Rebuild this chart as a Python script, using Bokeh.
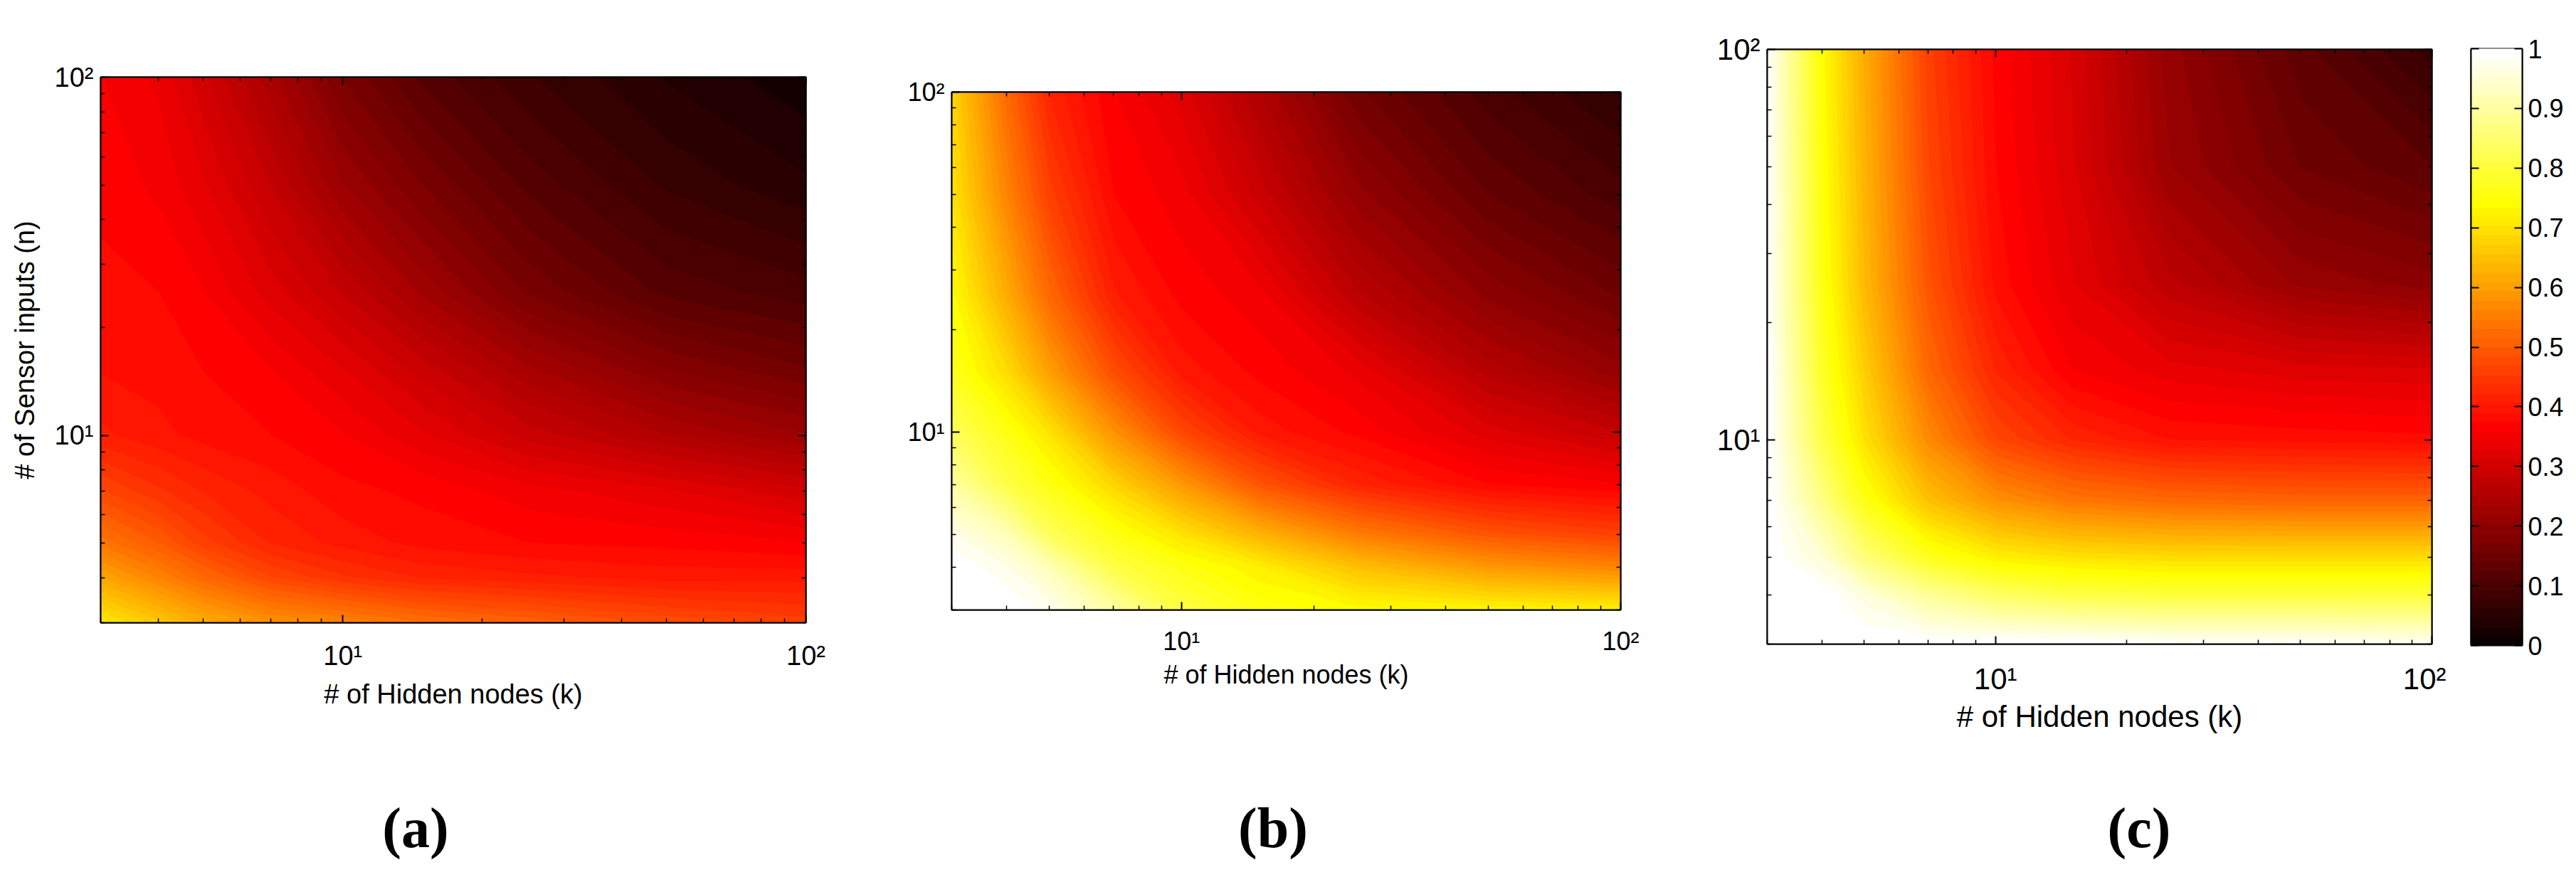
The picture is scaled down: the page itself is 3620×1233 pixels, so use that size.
import numpy as np
from bokeh.plotting import figure
from bokeh.models import LinearAxis, FixedTicker, Range1d, Div, Spacer
from bokeh.layouts import row, column
from bokeh.embed import file_html
from bokeh.resources import INLINE

# ---------------- data ----------------
hidden_nodes = [3, 4, 5, 7, 10, 15, 25, 50, 100]      # k (x)
sensor_inputs = [3, 4, 5, 7, 10, 15, 25, 50, 100]     # n (y), rows below

values_a = [
    [0.71, 0.66, 0.62, 0.58, 0.56, 0.53, 0.51, 0.48, 0.46],
    [0.61, 0.56, 0.52, 0.47, 0.44, 0.42, 0.41, 0.40, 0.40],
    [0.54, 0.50, 0.46, 0.42, 0.40, 0.385, 0.375, 0.37, 0.36],
    [0.47, 0.44, 0.42, 0.40, 0.38, 0.37, 0.35, 0.33, 0.30],
    [0.41, 0.395, 0.385, 0.375, 0.36, 0.33, 0.29, 0.25, 0.22],
    [0.39, 0.385, 0.375, 0.36, 0.33, 0.29, 0.24, 0.19, 0.16],
    [0.38, 0.375, 0.36, 0.32, 0.28, 0.23, 0.17, 0.12, 0.10],
    [0.37, 0.355, 0.33, 0.28, 0.22, 0.17, 0.12, 0.075, 0.05],
    [0.36, 0.34, 0.30, 0.24, 0.17, 0.12, 0.08, 0.045, 0.02],
]

values_b = [
    [1.00, 1.00, 0.98, 0.90, 0.81, 0.76, 0.74, 0.73, 0.72],
    [1.00, 0.97, 0.92, 0.81, 0.76, 0.72, 0.65, 0.59, 0.56],
    [0.97, 0.92, 0.83, 0.76, 0.70, 0.63, 0.55, 0.49, 0.46],
    [0.90, 0.81, 0.76, 0.68, 0.59, 0.49, 0.42, 0.375, 0.36],
    [0.83, 0.76, 0.70, 0.58, 0.47, 0.40, 0.37, 0.32, 0.28],
    [0.77, 0.69, 0.60, 0.48, 0.40, 0.37, 0.34, 0.26, 0.21],
    [0.74, 0.62, 0.52, 0.41, 0.37, 0.35, 0.27, 0.20, 0.155],
    [0.70, 0.56, 0.46, 0.375, 0.35, 0.29, 0.21, 0.14, 0.10],
    [0.68, 0.52, 0.42, 0.36, 0.32, 0.25, 0.16, 0.10, 0.06],
]

values_c = [
    [1.00, 1.00, 1.00, 1.00, 1.00, 1.00, 0.99, 0.99, 0.98],
    [1.00, 1.00, 0.96, 0.89, 0.84, 0.81, 0.80, 0.80, 0.80],
    [1.00, 0.95, 0.86, 0.77, 0.72, 0.70, 0.69, 0.69, 0.69],
    [1.00, 0.87, 0.76, 0.65, 0.58, 0.54, 0.52, 0.51, 0.51],
    [1.00, 0.81, 0.70, 0.57, 0.47, 0.42, 0.39, 0.385, 0.38],
    [1.00, 0.78, 0.67, 0.52, 0.42, 0.36, 0.335, 0.32, 0.315],
    [0.99, 0.76, 0.64, 0.49, 0.385, 0.33, 0.27, 0.215, 0.195],
    [0.99, 0.75, 0.63, 0.47, 0.375, 0.315, 0.22, 0.155, 0.125],
    [0.99, 0.74, 0.62, 0.46, 0.37, 0.31, 0.21, 0.13, 0.07],
]

major_ticks = [10, 100]
major_tick_labels = ["10\u00b9", "10\u00b2"]
minor_ticks = [3, 4, 5, 6, 7, 8, 9, 20, 30, 40, 50, 60, 70, 80, 90]
axis_limits = (3, 100)
colorbar_ticks = [0, 0.1, 0.2, 0.3, 0.4, 0.5, 0.6, 0.7, 0.8, 0.9, 1]
colorbar_labels = ["0", "0.1", "0.2", "0.3", "0.4", "0.5", "0.6", "0.7", "0.8", "0.9", "1"]
panel_tags = ["(a)", "(b)", "(c)"]
x_title = "# of Hidden nodes (k)"
y_title = "# of Sensor inputs (n)"

# log-decade coordinates (the axes are logarithmic)
LX = np.log10(hidden_nodes)
LY = np.log10(sensor_inputs)
L_MAJOR = [float(np.log10(t)) for t in major_ticks]
L_MINOR = [float(np.log10(t)) for t in minor_ticks]
L_LIM = (float(np.log10(axis_limits[0])), float(np.log10(axis_limits[1])))


# ---------------- MATLAB "hot" colormap, 64 entries ----------------
def hot(m=64):
    n = int(3 * m / 8)
    cols = []
    for i in range(1, m + 1):
        r = min(1.0, i / n)
        g = min(1.0, max(0.0, (i - n) / n))
        b = min(1.0, max(0.0, (i - 2 * n) / (m - 2 * n)))
        cols.append("#%02x%02x%02x" % (round(r * 255), round(g * 255), round(b * 255)))
    return cols


PAL = hot(64)
LEVELS = list(np.linspace(0, 1, 65))
LEVELS[-1] = 1.0005
LINE_PAL = [PAL[min(j, 63)] for j in range(65)]
CB_LEVELS = list(np.linspace(0, 1, 65))

FONT = "Liberation Sans"


def style_axis(ax, size, labels=True, standoff=10):
    ax.ticker = FixedTicker(ticks=L_MAJOR, minor_ticks=L_MINOR)
    if labels:
        ax.major_label_overrides = dict(zip(L_MAJOR, major_tick_labels))
    else:
        ax.major_label_overrides = {t: "" for t in L_MAJOR}
    ax.major_tick_in = 11
    ax.major_tick_out = 0
    ax.minor_tick_in = 6
    ax.minor_tick_out = 0
    ax.axis_line_width = 2
    ax.axis_line_color = "black"
    ax.major_tick_line_width = 2
    ax.minor_tick_line_width = 1.5
    ax.major_label_standoff = standoff
    ax.major_label_text_font = FONT
    ax.major_label_text_color = "black"
    ax.major_label_text_font_size = f"{size}px"
    ax.axis_label_text_font = FONT
    ax.axis_label_text_font_style = "normal"
    ax.axis_label_text_color = "black"
    ax.axis_label_text_font_size = f"{size}px"


def panel(values, fw, fh, left, right, top, bottom, size, tick_standoff, xl_standoff,
          ylabel=None):
    p = figure(x_range=Range1d(*L_LIM), y_range=Range1d(*L_LIM),
               frame_width=fw, frame_height=fh,
               min_border_left=left, min_border_right=right,
               min_border_top=top, min_border_bottom=bottom,
               toolbar_location=None, output_backend="svg",
               background_fill_color="white", border_fill_color="white")
    p.grid.visible = False
    p.outline_line_color = "black"
    p.outline_line_width = 2
    p.contour(x=LX, y=LY, z=np.array(values), levels=LEVELS,
              fill_color=PAL, line_color=LINE_PAL, line_width=2)
    style_axis(p.xaxis[0], size, standoff=tick_standoff)
    style_axis(p.yaxis[0], size, standoff=10)
    p.xaxis[0].axis_label = x_title
    p.xaxis[0].axis_label_standoff = xl_standoff
    if ylabel:
        p.yaxis[0].axis_label = ylabel
        p.yaxis[0].axis_label_standoff = 18
    top_ax = LinearAxis()
    style_axis(top_ax, size, labels=False, standoff=0)
    right_ax = LinearAxis()
    style_axis(right_ax, size, labels=False, standoff=0)
    p.add_layout(top_ax, "above")
    p.add_layout(right_ax, "right")
    return p


TOP = 40
pa = panel(values_a, 991, 767, 141, 60, TOP, 242, 38, 25, 9, ylabel=y_title)
pb = panel(values_b, 940, 728, 145, 60, TOP, 260, 36, 23, 3)
pc = panel(values_c, 934, 836, 146, 20, TOP, 212, 42, 25, 3)

# ---------------- colour bar ----------------
cb = figure(x_range=Range1d(0, 1), y_range=Range1d(0, 1),
            frame_width=72, frame_height=839,
            min_border_left=35, min_border_right=66, min_border_top=TOP, min_border_bottom=210,
            x_axis_location=None, y_axis_location="right",
            toolbar_location=None, output_backend="svg")
cb.grid.visible = False
cb.outline_line_color = "black"
cb.outline_line_width = 2
cb.quad(left=0, right=1, bottom=CB_LEVELS[:-1], top=CB_LEVELS[1:],
        fill_color=PAL, line_color=PAL, line_width=1)


def style_cb_axis(ax, labels=True):
    ax.ticker = FixedTicker(ticks=colorbar_ticks)
    if labels:
        ax.major_label_overrides = dict(zip(colorbar_ticks, colorbar_labels))
    else:
        ax.major_label_overrides = {t: "" for t in colorbar_ticks}
    ax.major_tick_in = 11
    ax.major_tick_out = 0
    ax.minor_tick_in = 0
    ax.minor_tick_out = 0
    ax.axis_line_width = 2
    ax.major_tick_line_width = 2
    ax.major_label_standoff = 8
    ax.major_label_text_font = FONT
    ax.major_label_text_color = "black"
    ax.major_label_text_font_size = "36px"


style_cb_axis(cb.yaxis[0])
cb_left = LinearAxis()
style_cb_axis(cb_left, labels=False)
cb.add_layout(cb_left, "left")

# spacers give each panel its own vertical offset
col_a = column(Spacer(width=10, height=68), pa, spacing=0)
col_b = column(Spacer(width=10, height=89), pb, spacing=0)
col_c = column(Spacer(width=10, height=29), pc, spacing=0)
col_cb = column(Spacer(width=10, height=28), cb, spacing=0)
plots = row(col_a, col_b, col_c, col_cb, spacing=0)

tag_style = {"font-family": "Liberation Serif", "font-weight": "bold", "font-size": "80px",
             "text-align": "center", "line-height": "94px", "color": "black"}
tags = row(
    Div(text=panel_tags[0], width=1168, height=100, margin=0, styles=tag_style),
    Div(text=panel_tags[1], width=1242, height=100, margin=0, styles=tag_style),
    Div(text=panel_tags[2], width=1192, height=100, margin=0, styles=tag_style),
    spacing=0,
)

layout = column(plots, tags, spacing=0)
open("out.html", "w").write(file_html(layout, INLINE))
